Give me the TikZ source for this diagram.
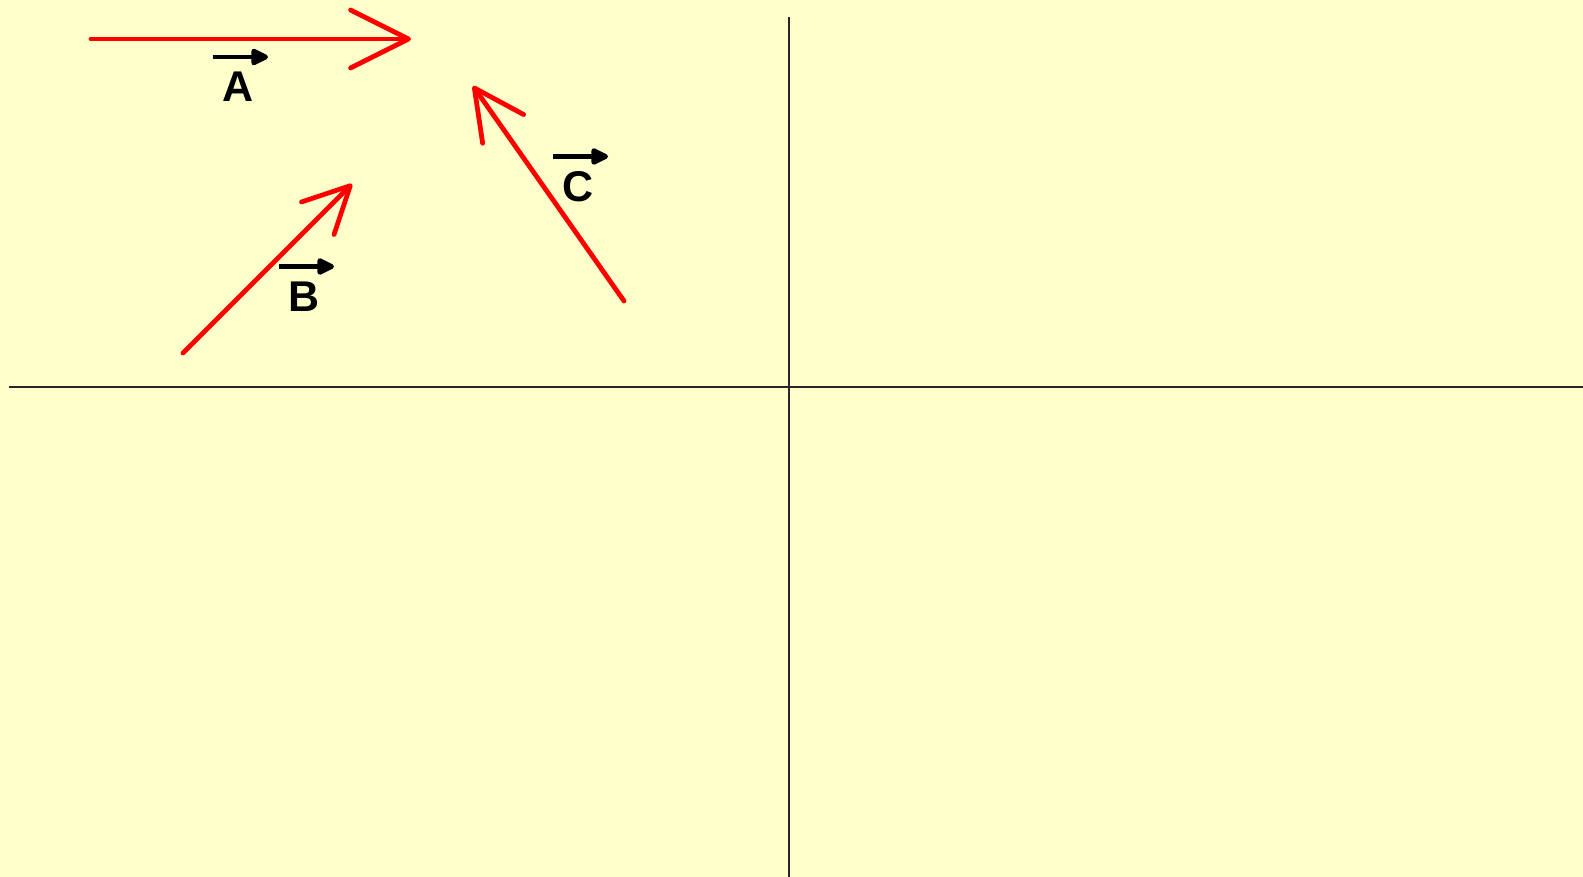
\documentclass[tikz,border=0pt]{standalone}
\usepackage{fontspec}
\setmainfont{Liberation Sans}
\usepackage{xcolor}
\definecolor{PadYellow}{HTML}{FFFFCC}
\definecolor{VecRed}{HTML}{FF0000}
\usetikzlibrary{arrows.meta}

\begin{document}
\begin{tikzpicture}[
  x=0.5pt,y=-0.5pt,
  axis/.style={draw=black!85,line width=1pt},
  redvec/.style={draw=VecRed,line width=2.4pt,line cap=round,-{Straight Barb[length=#1,width=#1,line cap=round,round]}},
  redvec/.default=29pt,
  letter/.style={font=\fontsize{21.5}{21.5}\selectfont\bfseries,inner sep=0pt},
  overarrow/.style={draw=black,line width=2.4pt,-{Triangle[length=10pt,width=9pt,line join=round]}}
]
  \fill[PadYellow] (0,0) rectangle (1583,877);
  \useasboundingbox (0,0) rectangle (1583,877);
  % axes
  \coordinate (ytop) at (789,17);
  \coordinate (ybot) at (789,877);
  \coordinate (xlft) at (9,387);
  \coordinate (xrgt) at (1583,387);
  \draw[axis] (ytop) -- (ybot);
  \draw[axis] (xlft) -- (xrgt);
  % vectors
  \coordinate (A0) at (91,39);
  \coordinate (A1) at (411,39);
  \coordinate (B0) at (183,353);
  \coordinate (B1) at (352,184);
  \coordinate (C0) at (624,301);
  \coordinate (C1) at (473,86);
  \draw[redvec] (A0) -- (A1);
  \draw[redvec=23pt] (B0) -- (B1);
  \draw[redvec=25pt] (C0) -- (C1);
  % labels
  \node[letter] (labA) at (238,87) {A};
  \node[letter] (labB) at (304,296.5) {B};
  \node[letter] (labC) at (578,186.5) {C};
  \foreach \v in {A,B,C}
    \draw[overarrow] ([shift={(-25,-30)}]lab\v.center) -- ++(55,0);
\end{tikzpicture}
\end{document}
